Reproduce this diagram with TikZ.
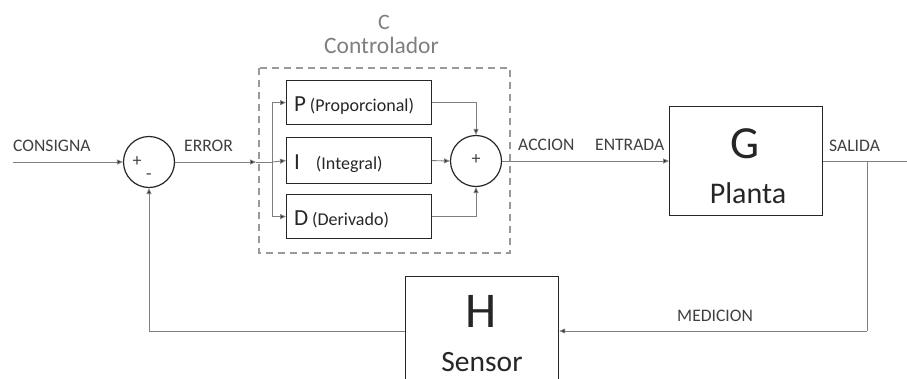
\documentclass[tikz,border=0pt]{standalone}
\usepackage{fontspec}
\setmainfont{Carlito}
\usetikzlibrary{arrows.meta}
\definecolor{linegray}{HTML}{7F7F7F}
\definecolor{boxline}{HTML}{262626}
\definecolor{txt}{HTML}{404040}
\tikzset{
  blk/.style={draw=boxline, line width=1.2pt, rectangle, inner sep=0pt, anchor=north west},
  sumc/.style={draw=boxline, line width=1.2pt, circle, minimum size=51pt, inner sep=0pt},
  conn/.style={draw=linegray, line width=0.9pt},
  arr/.style={conn, -{Triangle[length=6pt,width=5pt,fill=boxline]}},
  lbl/.style={font=\fontsize{17.6}{19}\selectfont, text=txt, inner sep=0pt},
  ctl/.style={text=linegray, inner sep=0pt},
  big/.style={inner sep=0pt, text=boxline},
}
\begin{document}
\begin{tikzpicture}[x=1pt,y=-1pt]
\useasboundingbox (0,0) rectangle (907,378);
% title
\node[ctl, font=\fontsize{22}{24}\selectfont] (ct) at (384,22) {C};
\node[ctl, font=\fontsize{23.5}{26}\selectfont] (cn) at (381.5,45) {Controlador};
% dashed box
\draw[draw=linegray!80, line width=1.2pt, dash pattern=on 7pt off 5pt] (259,68) rectangle (510,253);
% sum 1
\node[sumc] (s1) at (149,162) {};
\node[lbl, font=\fontsize{18}{18}\selectfont] (s1p) at (137,162) {+};
\node[lbl, font=\fontsize{18}{18}\selectfont] (s1m) at (149,177) {-};
% sum 2
\node[sumc] (s2) at (476,161) {};
\node[lbl, font=\fontsize{18}{18}\selectfont] (s2p) at (476,160) {+};
% PID boxes
\node[blk, minimum width=145pt, minimum height=44pt] (P) at (286,80) {};
\node[blk, minimum width=145pt, minimum height=46pt] (I) at (286,137) {};
\node[blk, minimum width=145pt, minimum height=44pt] (D) at (286,194) {};
\node[anchor=base west, big] (Pt) at (294,111) {\fontsize{23}{24}\selectfont P\,\fontsize{18}{20}\selectfont (Proporcional)};
\node[anchor=base west, big] (It) at (294,169) {\fontsize{23}{24}\selectfont I\hspace{16pt}\fontsize{18}{20}\selectfont (Integral)};
\node[anchor=base west, big] (Dt) at (294,225) {\fontsize{23}{24}\selectfont D\,\fontsize{18}{20}\selectfont (Derivado)};
% G box
\node[blk, minimum width=153pt, minimum height=109pt] (G) at (669,106) {};
\node[big, font=\fontsize{46}{48}\selectfont] (Gt) at (745,144) {G};
\node[big, font=\fontsize{30}{32}\selectfont] (Gp) at (748,193) {Planta};
% H box (runs past bottom)
\node[blk, minimum width=153pt, minimum height=130pt] (H) at (405,276) {};
\node[big, font=\fontsize{50}{52}\selectfont] (Ht) at (481,311) {H};
\node[big, font=\fontsize{29.5}{32}\selectfont, anchor=base, text depth=0pt] (Hs) at (482,371) {Sensor};
% coordinates
\coordinate (in) at (13,162);
\coordinate (e1) at (256,162);
\coordinate (br) at (272,162);
\coordinate (out) at (907,161);
\coordinate (tap) at (867,161);
\coordinate (mb) at (867,331);
\coordinate (fb) at (149,331);
% connectors
\draw[arr] (in) -- (s1.west);
\draw[arr] (s1.east) -- (e1);
\draw[conn] (e1) -- (br);
\draw[arr] (br) |- (P.west);
\draw[arr] (br) -- (I.west);
\draw[arr] (br) |- (D.west);
\draw[arr] (P.east) -| (s2.north);
\draw[arr] (I.east) -- (s2.west);
\draw[arr] (D.east) -| (s2.south);
\draw[arr] (s2.east) -- (G.west |- s2.east);
\draw[conn] (G.east |- out) -- (out);
\draw[conn] (tap) -- (mb);
\draw[arr] (mb) -- (H.east |- mb);
\draw[conn] (H.west |- fb) -- (fb);
\draw[arr] (fb) -- (s1.south);
% labels
\node[lbl, anchor=west] (lc) at (13,146) {CONSIGNA};
\node[lbl, anchor=west] (le) at (184,146) {ERROR};
\node[lbl, anchor=west] (la) at (518,145) {ACCION};
\node[lbl, anchor=west] (len) at (595,145) {ENTRADA};
\node[lbl, anchor=west] (ls) at (829,146) {SALIDA};
\node[lbl, anchor=west] (lm) at (677,316) {MEDICION};
\end{tikzpicture}
\end{document}
